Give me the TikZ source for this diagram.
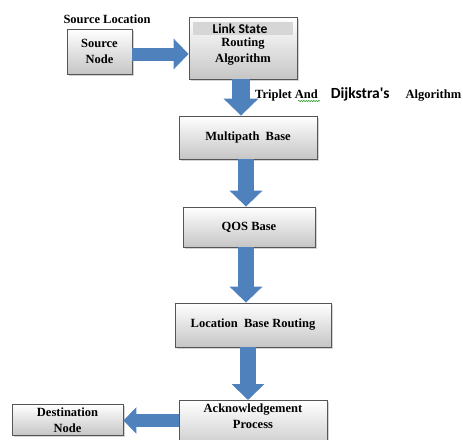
\documentclass[tikz,border=0pt]{standalone}
\usepackage{fontspec}
\setmainfont{Liberation Serif}
\setsansfont{Carlito}
\usetikzlibrary{arrows.meta,shadows,decorations.pathmorphing}
\definecolor{arrowblue}{HTML}{4F81BD}
\definecolor{boxedge}{HTML}{555555}
\definecolor{bandgray}{HTML}{D6D6D6}
\tikzset{
    box/.style={draw=boxedge, line width=0.8pt, top color=white, bottom color=gray!45,
        align=center, inner sep=3pt,
        drop shadow={shadow xshift=1.5pt, shadow yshift=-1.5pt, opacity=0.35}},
    fat/.style={draw=arrowblue, line width=#1},
    fattip/.style 2 args={-{Triangle[width=#1, length=#2]}}
}
\begin{document}
\begin{tikzpicture}[x=1pt, y=-1pt,
        every node/.style={font=\fontsize{12.5}{16}\selectfont\bfseries}]
    \clip (0,0) rectangle (463,439);
    % boxes
    \node (srcloc) at (107,19) {Source Location};
    \node [box, minimum width=65pt, minimum height=45pt] (src) at (99.5,51.5) {Source\\Node};
    \node [box, minimum width=108pt, minimum height=62pt] (lsr) at (243,48) {\mbox{}\\Routing\\Algorithm};
    \node [fill=bandgray, minimum width=100pt, minimum height=13pt, inner sep=0pt] (lsband) at (243,28.5) {};
    \node [font=\fontsize{13.5}{16}\selectfont\sffamily\bfseries] (lstext) at (240,29) {Link State};
    \node [box, minimum width=138pt, minimum height=43pt] (multi) at (248,137.5) {Multipath\ \ Base};
    \node [box, minimum width=132pt, minimum height=40pt] (qos) at (249,227) {QOS Base};
    \node [box, minimum width=156pt, minimum height=44pt] (loc) at (253,325) {Location\ \ Base Routing};
    \node [box, minimum width=148pt, anchor=north] (ack) at (253,400) {Acknowledgement\\Process\\\strut};
    \node [box, minimum width=111pt, anchor=north] (dest) at (67.5,404) {Destination\\Node};
    % label beside the first arrow
    \node [anchor=west, inner sep=0pt] (triplet) at (255,94)
        {Triplet And\hspace{13pt}{\fontsize{15.5}{16}\selectfont\sffamily Dijkstra\textquotesingle s}\hspace{16pt}Algorithm};
    \draw [green!55!black, line width=0.5pt, decorate,
        decoration={snake, amplitude=0.6pt, segment length=2.5pt}] (298,101) -- (320,101);
    % arrows
    \draw [fat=13pt, fattip={30pt}{15pt}] (src.east |- 0,54) -- (lsr.west |- 0,54);
    \draw [fat=18pt, fattip={34pt}{17pt}] ([xshift=-2pt]lsr.south) -- ([xshift=-7pt]multi.north);
    \draw [fat=16pt, fattip={32pt}{16pt}] ([xshift=-2pt]multi.south) -- ([xshift=-3pt]qos.north);
    \draw [fat=16pt, fattip={32pt}{16pt}] ([xshift=-3pt]qos.south) -- ([xshift=-7pt]loc.north);
    \draw [fat=16pt, fattip={32pt}{16pt}] ([xshift=-5pt]loc.south) -- ([xshift=-5pt]ack.north);
    \draw [fat=13pt, fattip={26pt}{13pt}] (ack.west |- 0,420.5) -- (dest.east |- 0,420.5);
\end{tikzpicture}
\end{document}
